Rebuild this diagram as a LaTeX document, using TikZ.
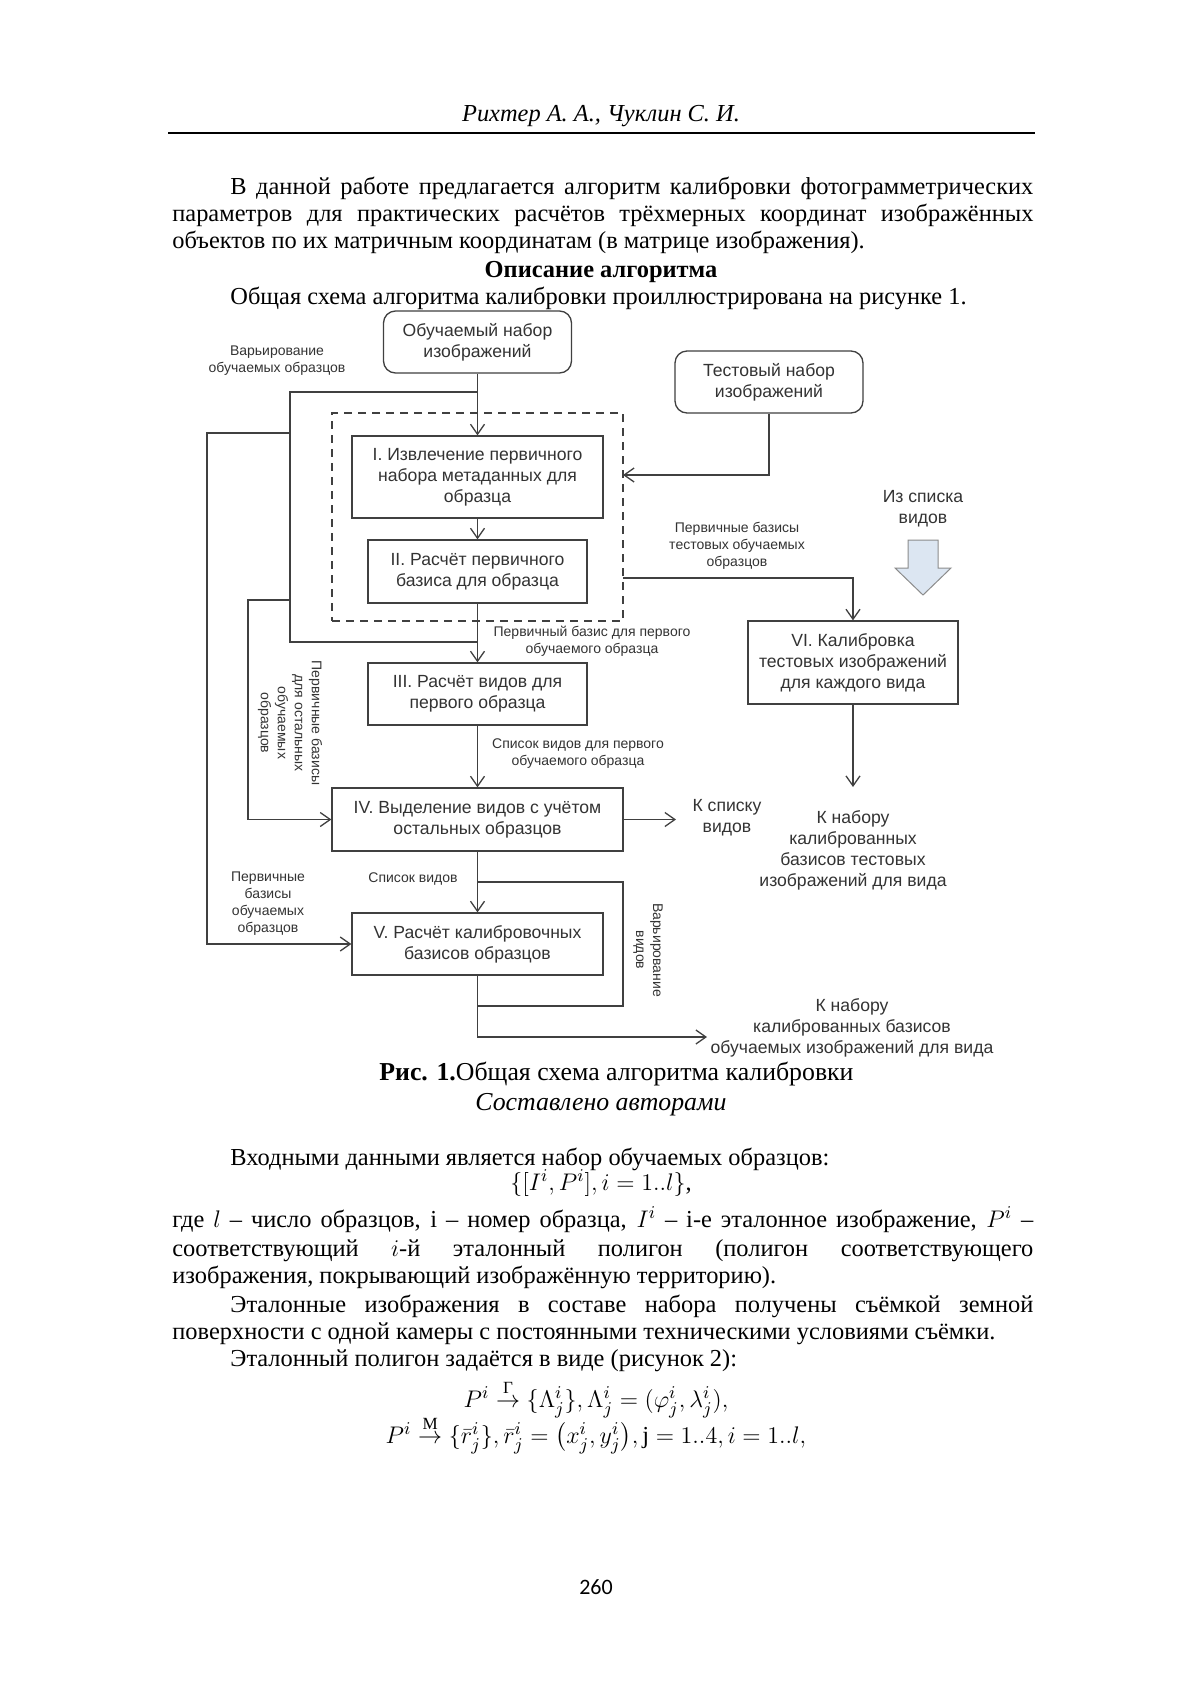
\documentclass[tikz,border=0pt]{standalone}
\usepackage{amsmath}
\usepackage{fontspec}
\setmainfont{Liberation Serif}
\setsansfont{Liberation Sans}
\newfontfamily\pagenumfont{Carlito}
\usetikzlibrary{positioning,arrows.meta}

\definecolor{linegray}{HTML}{404040}
\definecolor{textgray}{HTML}{333333}
\definecolor{blockfill}{HTML}{DCE6F2}
\definecolor{blockdraw}{HTML}{8C8C8C}

\newcommand{\bodyfont}{\fontsize{12.2pt}{13.2pt}\selectfont}
\newcommand{\capfont}{\fontsize{12.9pt}{13.5pt}\selectfont}
\newcommand{\boxfont}{\sffamily\fontsize{8.8pt}{10.5pt}\selectfont}
\newcommand{\notefont}{\sffamily\fontsize{7pt}{8.5pt}\selectfont}
\newcommand{\fullline}[1]{\makebox[430.5pt][s]{#1}}
\newcommand{\indline}[1]{\makebox[401.5pt][s]{#1}}

\begin{document}
\begin{tikzpicture}[x=0.5pt, y=-0.5pt,
    >={Straight Barb[length=5pt,width=7pt]},
    procbox/.style={draw=linegray, line width=0.65pt, align=center, inner sep=0pt, font=\boxfont, text=textgray},
    termbox/.style={procbox, rounded corners=6pt, minimum width=94pt, minimum height=31pt},
    note/.style={align=center, inner sep=0pt, font=\notefont, text=textgray},
    bignote/.style={align=center, inner sep=0pt, font=\boxfont, text=textgray},
    flow/.style={draw=linegray, line width=0.65pt},
    bodyline/.style={anchor=base west, inner sep=0pt, font=\bodyfont},
    bodycenter/.style={anchor=base, inner sep=0pt, font=\bodyfont},
  ]
  \useasboundingbox[fill=white] (0,0) rectangle (1200,1697);

  %Page head
  \node[bodycenter, font=\bodyfont\itshape] (head) at (601,121) {Рихтер А. А., Чуклин С. И.};
  \draw[line width=0.8pt] (168,133) -- (1035,133);

  %Text above the figure
  \node[bodyline] (p1a) at (230,194) {\indline{В данной работе предлагается алгоритм калибровки фотограмметрических}};
  \node[bodyline] (p1b) at (172,221) {\fullline{параметров для практических расчётов трёхмерных координат изображённых}};
  \node[bodyline] (p1c) at (172,248) {объектов по их матричным координатам (в матрице изображения).};
  \node[bodycenter, font=\bodyfont\bfseries] (sect) at (601,277) {Описание алгоритма};
  \node[bodyline] (p2) at (230,304) {Общая схема алгоритма калибровки проиллюстрирована на рисунке 1.};

  %Nodes
  \node[termbox] (train) at (477.5,342) {Обучаемый набор\\изображений};
  \node[termbox] (test) at (769,382) {Тестовый набор\\изображений};
  \node[draw=linegray, line width=0.65pt, dash pattern=on 4pt off 3pt, minimum width=145.5pt, minimum height=104pt] (grp) at (477.5,517) {};
  \node[procbox, minimum width=125.5pt, minimum height=41pt] (s1) at (477.5,477) {I. Извлечение первичного\\набора метаданных для\\образца};
  \node[procbox, minimum width=109.5pt, minimum height=31.5pt] (s2) at (477.5,571.5) {II. Расчёт первичного\\базиса для образца};
  \node[procbox, minimum width=109.5pt, minimum height=31pt] (s3) at (477.5,694) {III. Расчёт видов для\\первого образца};
  \node[procbox, minimum width=145.5pt, minimum height=31.5pt] (s4) at (477.5,819.5) {IV. Выделение видов с учётом\\остальных образцов};
  \node[procbox, minimum width=125.5pt, minimum height=31pt] (s5) at (477.5,944) {V. Расчёт калибровочных\\базисов образцов};
  \node[procbox, minimum width=105pt, minimum height=41.5pt] (s6) at (853,662.5) {VI. Калибровка\\тестовых изображений\\для каждого вида};

  %Labels
  \node[note] (varsamp) at (277,361) {Варьирование\\обучаемых образцов};
  \node[note] (testbas) at (737,546) {Первичные базисы\\тестовых обучаемых\\образцов};
  \node[bignote] (fromlist) at (923,509) {Из списка\\видов};
  \node[note] (firstbas) at (592,641) {Первичный базис для первого\\обучаемого образца};
  \node[note] (firstlist) at (578,754) {Список видов для первого\\обучаемого образца};
  \node[note, rotate=-90] (restbas) at (290,723) {Первичные базисы\\для остальных\\обучаемых\\образцов};
  \node[bignote] (tolist) at (727,818) {К списку\\видов};
  \node[bignote] (totest) at (853,850) {К набору\\калиброванных\\базисов тестовых\\изображений для вида};
  \node[note] (viewlist) at (413,879) {Список видов};
  \node[note] (trainbas) at (268,904) {Первичные\\базисы\\обучаемых\\образцов};
  \node[note, rotate=-90] (varview) at (648,950) {Варьирование\\видов};
  \node[bignote] (totrain) at (852,1028) {К набору\\калиброванных базисов\\обучаемых изображений для вида};

  %Block arrow
  \filldraw[fill=blockfill, draw=blockdraw, line width=0.5pt] (908,540) -- (938,540) -- (938,568) -- (951,568) -- (923,595) -- (895,568) -- (908,568) -- cycle;

  %Points
  \coordinate (jtop) at (477.5,392);
  \coordinate (jleft) at (290,392);
  \coordinate (jmid) at (477.5,642);
  \coordinate (jl1) at (290,433);
  \coordinate (jl2) at (290,600);
  \coordinate (tin) at (623,475);
  \coordinate (tout) at (623,578);
  \coordinate (kview) at (676,819.5);
  \coordinate (kcalib) at (853,787);
  \coordinate (loopa) at (477.5,882);
  \coordinate (loopb) at (477.5,1006);
  \coordinate (kfin) at (707,1037);

  %Lines
  \draw[flow,->] (train.south) -- (s1.north);
  \draw[flow] (jtop) -- (jleft) |- (jmid);
  \draw[flow,->] (jl1) -- (207,433) |- (s5.west);
  \draw[flow,->] (jl2) -- (248,600) |- (s4.west);
  \draw[flow,->] (test.south) |- (tin);
  \draw[flow,->] (tout) -| (s6.north);
  \draw[flow,->] (s1) -- (s2);
  \draw[flow,->] (s2) -- (s3);
  \draw[flow,->] (s3) -- (s4);
  \draw[flow,->] (s4) -- (s5);
  \draw[flow,->] (s4.east) -- (kview);
  \draw[flow,->] (s6.south) -- (kcalib);
  \draw[flow] (loopa) -- (623,882) -- (623,1006) -- (loopb);
  \draw[flow,->] (s5.south) |- (kfin);

  %Caption
  \node[bodyline, font=\capfont] (cap) at (379,1080) {\textbf{Рис. 1.}Общая схема алгоритма калибровки};
  \node[bodycenter, font=\capfont\itshape] (capsrc) at (601,1110) {Составлено авторами};

  %Text below the figure
  \node[bodyline] (p3) at (230,1165) {Входными данными является набор обучаемых образцов:};
  \node[bodycenter] (eq1) at (601,1190) {$\{[I^i,P^i],i=1..l\}$,};
  \node[bodyline] (p4a) at (172,1227) {\fullline{где $l$ – число образцов, i – номер образца, $I^i$ – i-е эталонное изображение, $P^i$ –}};
  \node[bodyline] (p4b) at (172,1256) {\fullline{соответствующий $i$-й эталонный полигон (полигон соответствующего}};
  \node[bodyline] (p4c) at (172,1283) {изображения, покрывающий изображённую территорию).};
  \node[bodyline] (p5a) at (230,1312) {\indline{Эталонные изображения в составе набора получены съёмкой земной}};
  \node[bodyline] (p5b) at (172,1339) {поверхности с одной камеры с постоянными техническими условиями съёмки.};
  \node[bodyline] (p6) at (230,1366) {Эталонный полигон задаётся в виде (рисунок 2):};
  \node[bodycenter] (eq2) at (596,1407) {$P^i \overset{\text{Г}}{\to} \{\Lambda^i_j\}, \Lambda^i_j=(\varphi^i_j,\lambda^i_j),$};
  \node[bodycenter] (eq3) at (596,1443) {$P^i \overset{\text{М}}{\to} \{\bar{r}^i_j\}, \bar{r}^i_j=\bigl(x^i_j,y^i_j\bigr), \mathrm{j}=1..4, i=1..l,$};

  %Page number
  \node[anchor=base, inner sep=0pt, font=\pagenumfont\fontsize{11pt}{13pt}\selectfont] (pnum) at (596,1594) {260};
\end{tikzpicture}
\end{document}
